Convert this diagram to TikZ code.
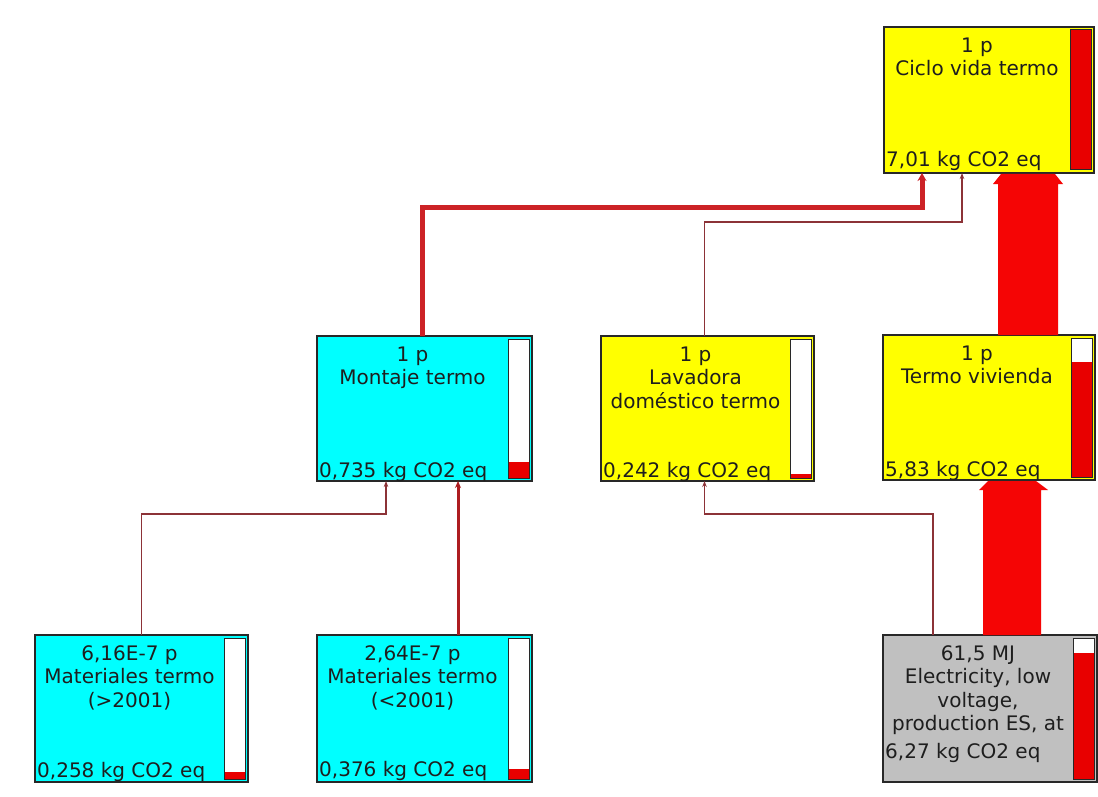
\documentclass[tikz,border=0pt]{standalone}
\usepackage{fontspec}
\setmainfont{DejaVu Sans}
\usetikzlibrary{calc,arrows.meta}
\definecolor{boxyellow}{RGB}{255,255,0}
\definecolor{boxcyan}{RGB}{0,255,255}
\definecolor{boxgray}{RGB}{192,192,192}
\definecolor{boxborder}{RGB}{40,40,40}
\definecolor{barred}{RGB}{232,0,0}
\definecolor{bandred}{RGB}{245,5,5}
\definecolor{thickcol}{RGB}{204,34,38}
\definecolor{thincol}{RGB}{140,50,55}
\definecolor{textcol}{RGB}{30,30,30}
\tikzset{
  boxstyle/.style={draw=boxborder, line width=1.2pt, inner sep=0pt, outer sep=0pt, anchor=north west},
  titletext/.style={font=\fontsize{20}{23.5}\selectfont, align=center, inner sep=0pt, anchor=north, text=textcol},
  valtext/.style={font=\fontsize{20}{23.5}\selectfont, inner sep=0pt, anchor=base west, text=textcol},
  barframe/.style={draw=boxborder, line width=1pt},
  thinconn/.style={draw=thincol, line width=1.1pt, -{Stealth[length=6pt,width=4.5pt]}},
  medconn/.style={draw=thickcol!85!black, line width=3pt, -{Stealth[length=7pt,width=6pt]}},
  thickconn/.style={draw=thickcol, line width=5pt, -{Stealth[length=8pt,width=9pt]}},
  band/.style={fill=bandred}
}
% #1 name, #2 x1, #3 y1, #4 x2, #5 y2, #6 fill, #7 title, #8 top of red in bar
\newcommand{\procbox}[8]{%
  \node[boxstyle, fill=#6, minimum width={(#4-#2)*1pt}, minimum height={(#5-#3)*1pt}] (#1) at (#2,#3) {};
  \fill[white] (#4-24,#3+3) rectangle (#4-3,#5-3);
  \fill[barred] (#4-24,#8) rectangle (#4-3,#5-3);
  \draw[barframe] (#4-24,#3+3) rectangle (#4-3,#5-3);
  \node[titletext] (#1-title) at ({(#2+#4-24)/2},#3+10.4) {#7};
}
\begin{document}
\begin{tikzpicture}[x=1pt,y=-1pt]
\useasboundingbox (0,0) rectangle (1098,797);
\fill[white] (0,0) rectangle (1098,797);

% boxes
\procbox{ciclo}{884}{27}{1094}{173}{boxyellow}{1 p\\Ciclo vida termo}{30}
\procbox{montaje}{317}{336}{532}{481}{boxcyan}{1 p\\Montaje termo}{462}
\procbox{lavadora}{601}{336}{814}{481}{boxyellow}{1 p\\Lavadora\\doméstico termo}{474}
\procbox{termo}{883}{335}{1095}{480}{boxyellow}{1 p\\Termo vivienda}{362}
\procbox{mat1}{35}{635}{248}{782}{boxcyan}{6,16E-7 p\\Materiales termo\\(>2001)}{772}
\procbox{mat2}{317}{635}{532}{782}{boxcyan}{2,64E-7 p\\Materiales termo\\(<2001)}{769}
\procbox{elec}{883}{635}{1097}{782}{boxgray}{61,5 MJ\\Electricity, low\\voltage,\\production ES, at}{653}

% values
\node[valtext] (ciclo-val) at (886,167) {7,01 kg CO2 eq};
\node[valtext] (montaje-val) at (319,477) {0,735 kg CO2 eq};
\node[valtext] (lavadora-val) at (603,477) {0,242 kg CO2 eq};
\node[valtext] (termo-val) at (885,476) {5,83 kg CO2 eq};
\node[valtext] (mat1-val) at (37,777) {0,258 kg CO2 eq};
\node[valtext] (mat2-val) at (319,776) {0,376 kg CO2 eq};
\node[valtext] (elec-val) at (885,758) {6,27 kg CO2 eq};

% wide bands
\fill[band] ($(termo.north)+(9,0)$) -- ($(ciclo.south)+(9,11)$) -- ($(ciclo.south)+(4,11)$)
  -- ($(ciclo.south)+(12,1)$) -- ($(ciclo.south)+(66,1)$) -- ($(ciclo.south)+(74,11)$)
  -- ($(ciclo.south)+(69,11)$) -- ($(termo.north)+(69,0)$) -- cycle;
\fill[band] ($(elec.north)+(-7,0)$) -- ($(termo.south)+(-6,10)$) -- ($(termo.south)+(-10,10)$)
  -- ($(termo.south)+(-1,1)$) -- ($(termo.south)+(47,1)$) -- ($(termo.south)+(59,10)$)
  -- ($(termo.south)+(52,10)$) -- ($(elec.north)+(51,0)$) -- cycle;

% connectors
\draw[thickconn] ($(montaje.north)+(-2,0)$) |- ($(ciclo.south)+(-67,34)$) -- ($(ciclo.south)+(-67,0)$);
\draw[thinconn] ($(lavadora.north)+(-3,0)$) |- ($(ciclo.south)+(-27,49)$) -- ($(ciclo.south)+(-27,0)$);
\draw[thinconn] ($(elec.north)+(-57,0)$) |- ($(lavadora.south)+(-3,33)$) -- ($(lavadora.south)+(-3,0)$);
\draw[thinconn] (mat1.north) |- ($(montaje.south)+(-38.5,33)$) -- ($(montaje.south)+(-38.5,0)$);
\draw[medconn] ($(mat2.north)+(33.5,0)$) -- ($(montaje.south)+(33.5,0)$);
\end{tikzpicture}
\end{document}
